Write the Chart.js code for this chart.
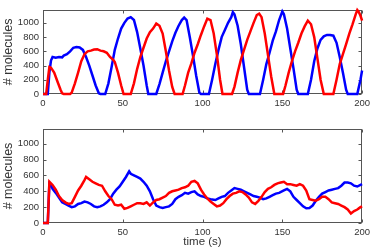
<!DOCTYPE html>
<html>
<head>
<meta charset="utf-8">
<script src="https://cdn.jsdelivr.net/npm/chart.js@4/dist/chart.umd.min.js"></script>
<style>
  body { margin: 0; background: #fff; }
  canvas { position: absolute; left: 0; }
  #topChart { top: 0; }
  #bottomChart { top: 112px; }
</style>
</head>
<body>
<canvas id="topChart" width="374" height="112"></canvas>
<canvas id="bottomChart" width="374" height="138"></canvas>
<script>
// axis ticks
const xTicks = [0, 50, 100, 150, 200];
const yTicks = [0, 200, 400, 600, 800, 1000];

// top panel: oscillating (deterministic-ish) run
const topBlueT = [0,3,4,5,6,8,10,12,13,15,17,19,21,23,25,27,29,31,33,35,36,39,41,43,45,47,49,51,53,55,57,59,61,63,65,66,71,73,75,77,79,81,83,85,87,88.5,90,92,94,96,98,99,104,106,108,110,112,114,116,118,119,120,122,124,126,128,129,136,138,140,142,144,146,148,150,151,153,155,157,159,160,166,168,170,172,174,176,178,180,182,184,186,188,190,191,197,198,199,200];
const topBlueY = [0,0,300,470,520,510,520,515,540,560,600,650,660,655,620,520,400,260,120,10,0,0,150,380,620,780,920,1000,1060,1080,1040,870,640,400,120,0,0,140,300,460,600,740,860,960,1040,1075,1040,800,540,260,20,0,0,200,420,620,800,900,1000,1080,1150,1120,960,700,380,60,0,0,200,420,580,750,880,1040,1160,1120,920,640,360,60,0,0,200,460,640,760,810,830,830,820,720,520,300,60,0,0,100,200,330];

const topRedT = [0,2,3,4,5,7,9,11,12,13,17,18,20,22,24,26,28,30,32,34,36,38,40,42,44,45,47,49,50.5,55,57,59,61,63,65,67,69,71,73,75,77,79,81,82.5,87.5,89,91,93,95,97,99,101,103,105,107,109,111,112.5,118.5,120,122,124,126,128,130,132,134,135.5,137,139,141,143,145,150.5,152,154,156,158,160,162,164,166,168,170,172,174,176,182,184,186,188,190,192,194,196,197,198,199,200];
const topRedY = [0,0,200,380,370,300,180,60,10,0,0,20,150,300,460,560,600,610,625,630,610,600,580,520,480,450,300,120,0,0,150,350,520,650,780,870,920,990,960,850,600,330,100,0,0,120,300,430,580,700,830,950,1060,1040,850,550,200,0,0,100,300,480,620,760,880,1000,1110,1130,1080,850,550,250,0,0,120,300,460,600,720,850,950,1030,980,800,500,200,0,0,200,420,560,700,850,980,1120,1180,1150,1100,1030];

// bottom panel: noisy run
const botBlueT = [0,3,4,5,6,8,10,12,14,16,18,20,22,24,26,28,30,32,34,36,38,40,42,44,46,48,50,52,54,55,57,59,61,63,65,67,69,71,73,75,77,79,81,83,85,87,89,91,93,95,97,99,101,103,105,108,110,112,114,116,118,120,122,124,126,128,130,132,134,136,138,140,142,144,146,148,151,153,155,157,159,161,163,165,167,169,171,173,175,177,179,181,183,185,187,189,191,193,195,197,199,200];
const botBlueY = [0,0,500,480,430,380,320,260,240,220,200,210,240,250,270,260,240,210,200,210,230,260,300,370,420,460,520,580,650,620,600,580,560,520,470,400,300,220,200,190,200,210,240,300,330,350,380,370,390,400,360,340,330,310,300,290,310,330,340,380,410,440,430,420,400,380,360,340,330,320,300,310,330,350,370,380,410,430,400,330,290,250,210,185,190,220,280,330,370,390,410,420,430,440,470,510,510,500,470,460,480,490];

const botRedT = [0,3,4,6,8,10,12,14,16,18,20,22,24,26,27,29,31,33,35,37,39,41,43,45,47,49,51,53,55,57,59,61,63,65,67,69,71,73,75,77,79,81,83,85,87,89,91,93,95,97,99,101,103,105,107,109,111,113,115,117,119,121,123,125,127,129,131,133,135,137,139,141,143,145,147,149,151,153,155,157,159,161,163,165,167,169,171,173,175,177,179,181,183,185,187,189,191,193,195,197,199,200];
const botRedY = [0,0,520,480,420,340,290,260,240,250,330,410,470,540,580,550,520,500,480,470,400,340,300,230,220,230,180,190,210,230,250,250,240,260,220,260,290,300,320,340,380,400,410,420,440,450,470,520,530,500,420,360,310,270,240,210,220,250,300,340,370,380,400,390,360,320,260,240,280,330,390,430,450,480,500,510,520,490,490,480,470,490,470,410,300,290,280,300,330,330,300,260,250,240,220,200,170,120,150,170,200,210];

const pts = (t, y) => t.map((v, i) => ({x: v, y: y[i]}));

const boxPlugin = {
  id: 'box',
  beforeDatasetsDraw(chart) {
    const {ctx, chartArea: a, scales} = chart;
    const l = Math.round(a.left) + 0.5, r = Math.round(a.right) - 0.5;
    const t = Math.round(a.top) + 0.5, b = Math.round(a.bottom) - 0.5;
    ctx.save();
    ctx.strokeStyle = '#555';
    ctx.lineWidth = 1;
    ctx.strokeRect(l, t, r - l, b - t);
    ctx.beginPath();
    xTicks.forEach(v => {
      const px = Math.round(scales.x.getPixelForValue(v)) + 0.5;
      ctx.moveTo(px, b); ctx.lineTo(px, b - 3);
      ctx.moveTo(px, t); ctx.lineTo(px, t + 3);
    });
    yTicks.forEach(v => {
      const py = Math.round(scales.y.getPixelForValue(v)) + 0.5;
      ctx.moveTo(l, py); ctx.lineTo(l + 3, py);
      ctx.moveTo(r, py); ctx.lineTo(r - 3, py);
    });
    ctx.stroke();
    ctx.restore();
  }
};

function makeChart(id, blueT, blueY, redT, redY, opts) {
  const ctx = document.getElementById(id).getContext('2d');
  return new Chart(ctx, {
    type: 'line',
    data: {
      datasets: [
        {data: pts(redT, redY), borderColor: '#ff0000', borderWidth: 2.5, pointRadius: 0, tension: 0, clip: false},
        {data: pts(blueT, blueY), borderColor: '#0000ff', borderWidth: 2.5, pointRadius: 0, tension: 0, clip: false}
      ]
    },
    options: {
      responsive: false,
      animation: false,
      devicePixelRatio: 1,
      layout: {padding: {left: 0, right: 8, top: opts.padTop, bottom: 0}},
      scales: {
        x: {
          type: 'linear',
          min: 0, max: 200,
          grid: {display: false, drawTicks: false},
          border: {display: false},
          afterBuildTicks: s => { s.ticks = xTicks.map(v => ({value: v})); },
          afterFit: s => { s.height = opts.xHeight; },
          ticks: {color: '#333', font: {family: 'Liberation Sans, Arial', size: 9.5}, padding: 4, maxRotation: 0,
                  callback: v => String(v)},
          title: {display: opts.xTitle, text: 'time (s)', color: '#333', font: {family: 'Liberation Sans, Arial', size: 11.5}, padding: {top: 0, bottom: 1}}
        },
        y: {
          min: 0, max: 1185,
          grid: {display: false, drawTicks: false},
          border: {display: false},
          afterBuildTicks: s => { s.ticks = yTicks.map(v => ({value: v})); },
          afterFit: s => { s.width = 43; },
          ticks: {color: '#333', font: {family: 'Liberation Sans, Arial', size: 9.5}, padding: 4,
                  callback: v => String(v)},
          title: {display: true, text: '# molecules', color: '#333', font: {family: 'Liberation Sans, Arial', size: 12.5}, padding: {top: 1, bottom: 0}}
        }
      },
      plugins: {legend: {display: false}, tooltip: {enabled: false}}
    },
    plugins: [boxPlugin]
  });
}

makeChart('topChart', topBlueT, topBlueY, topRedT, topRedY, {padTop: 1, xHeight: 18, xTitle: false});
makeChart('bottomChart', botBlueT, botBlueY, botRedT, botRedY, {padTop: 17, xHeight: 27, xTitle: true});
</script>
</body>
</html>
